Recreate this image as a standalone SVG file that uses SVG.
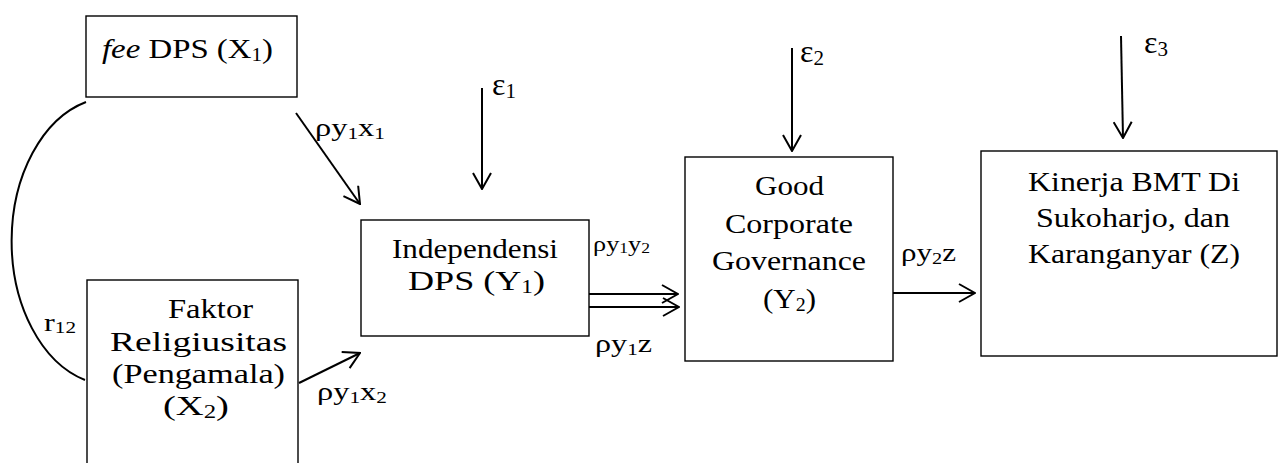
<svg xmlns="http://www.w3.org/2000/svg" width="1278" height="463" viewBox="0 0 1278 463">
<style>
.box{fill:#fff;stroke:#000;stroke-width:1.4}
.c{fill:none;stroke:#000;stroke-width:2}
</style>
<defs>
<marker id="ah" markerUnits="userSpaceOnUse" viewBox="0 0 18 20" refX="17" refY="10" markerWidth="18" markerHeight="20" orient="auto">
<path d="M1,1 L17,10 L1,19" fill="none" stroke="#000" stroke-width="2"/>
</marker>
</defs>
<rect width="1278" height="463" fill="#fff"/>
<g id="connectors">
<path class="c" d="M86,102 A100,144 0 0 0 85,380" stroke-width="1.6"/>
<line class="c" x1="296" y1="113" x2="360" y2="204" marker-end="url(#ah)"/>
<line class="c" x1="299" y1="383" x2="360" y2="353" marker-end="url(#ah)"/>
<line class="c" x1="482" y1="88" x2="482" y2="189" marker-end="url(#ah)"/>
<line class="c" x1="589" y1="294" x2="678" y2="294" marker-end="url(#ah)"/>
<line class="c" x1="589" y1="307" x2="679" y2="307" marker-end="url(#ah)"/>
<line class="c" x1="792" y1="48" x2="792" y2="151" marker-end="url(#ah)"/>
<line class="c" x1="893" y1="293" x2="975" y2="293" marker-end="url(#ah)"/>
<line class="c" x1="1121" y1="36" x2="1123" y2="138" marker-end="url(#ah)"/>
<text font-family="Liberation Serif" font-size="26" x="315" y="136" textLength="70" lengthAdjust="spacingAndGlyphs">ρy<tspan font-size="17" dy="3">1</tspan><tspan dy="-3">x</tspan><tspan font-size="17" dy="3">1</tspan></text>
<text font-family="Liberation Serif" font-size="26" x="317" y="400" textLength="70" lengthAdjust="spacingAndGlyphs">ρy<tspan font-size="17" dy="3">1</tspan><tspan dy="-3">x</tspan><tspan font-size="17" dy="3">2</tspan></text>
<text font-family="Liberation Serif" font-size="21" x="593" y="251" textLength="57" lengthAdjust="spacingAndGlyphs">ρy<tspan font-size="14" dy="2">1</tspan><tspan dy="-2">y</tspan><tspan font-size="14" dy="2">2</tspan></text>
<text font-family="Liberation Serif" font-size="26" x="595" y="352" textLength="57" lengthAdjust="spacingAndGlyphs">ρy<tspan font-size="17" dy="3">1</tspan><tspan dy="-3">z</tspan></text>
<text font-family="Liberation Serif" font-size="26" x="901" y="261" textLength="55" lengthAdjust="spacingAndGlyphs">ρy<tspan font-size="17" dy="3">2</tspan><tspan dy="-3">z</tspan></text>
<text font-family="Liberation Serif" font-size="26" x="44" y="331" textLength="32" lengthAdjust="spacingAndGlyphs">r<tspan font-size="17" dy="2">12</tspan></text>
<text font-family="Liberation Serif" font-size="32" x="492" y="95">ε<tspan font-size="21" dy="3">1</tspan></text>
<text font-family="Liberation Serif" font-size="32" x="800" y="62">ε<tspan font-size="21" dy="3">2</tspan></text>
<text font-family="Liberation Serif" font-size="32" x="1144" y="53">ε<tspan font-size="21" dy="3">3</tspan></text>
</g>
<g id="X1">
<rect class="box" x="86" y="16" width="211" height="81"/>
<text font-family="Liberation Serif" font-size="28" x="102" y="58" textLength="171" lengthAdjust="spacingAndGlyphs"><tspan font-style="italic">fee</tspan> DPS (X<tspan font-size="18" dy="3">1</tspan><tspan dy="-3">)</tspan></text>
</g>
<g id="X2">
<rect class="box" x="87" y="280" width="211" height="200"/>
<text font-family="Liberation Serif" font-size="28" x="168" y="318" textLength="85" lengthAdjust="spacingAndGlyphs">Faktor</text>
<text font-family="Liberation Serif" font-size="28" x="110" y="351" textLength="177" lengthAdjust="spacingAndGlyphs">Religiusitas</text>
<text font-family="Liberation Serif" font-size="28" x="112" y="383" textLength="173" lengthAdjust="spacingAndGlyphs">(Pengamala)</text>
<text font-family="Liberation Serif" font-size="28" x="163" y="415" textLength="66" lengthAdjust="spacingAndGlyphs">(X<tspan font-size="18" dy="3">2</tspan><tspan dy="-3">)</tspan></text>
</g>
<g id="Y1">
<rect class="box" x="361" y="220" width="228" height="116"/>
<text font-family="Liberation Serif" font-size="28" x="392" y="258" textLength="166" lengthAdjust="spacingAndGlyphs">Independensi</text>
<text font-family="Liberation Serif" font-size="28" x="408" y="290" textLength="137" lengthAdjust="spacingAndGlyphs">DPS (Y<tspan font-size="18" dy="3">1</tspan><tspan dy="-3">)</tspan></text>
</g>
<g id="Y2">
<rect class="box" x="685" y="157" width="208" height="204"/>
<text font-family="Liberation Serif" font-size="28" x="755" y="195" textLength="69" lengthAdjust="spacingAndGlyphs">Good</text>
<text font-family="Liberation Serif" font-size="28" x="725" y="233" textLength="128" lengthAdjust="spacingAndGlyphs">Corporate</text>
<text font-family="Liberation Serif" font-size="28" x="712" y="270" textLength="154" lengthAdjust="spacingAndGlyphs">Governance</text>
<text font-family="Liberation Serif" font-size="28" x="763" y="308" textLength="53" lengthAdjust="spacingAndGlyphs">(Y<tspan font-size="18" dy="3">2</tspan><tspan dy="-3">)</tspan></text>
</g>
<g id="Z">
<rect class="box" x="981" y="151" width="296" height="205"/>
<text font-family="Liberation Serif" font-size="28" x="1028" y="191" textLength="212" lengthAdjust="spacingAndGlyphs">Kinerja BMT Di</text>
<text font-family="Liberation Serif" font-size="28" x="1036" y="227" textLength="194" lengthAdjust="spacingAndGlyphs">Sukoharjo, dan</text>
<text font-family="Liberation Serif" font-size="28" x="1028" y="263" textLength="212" lengthAdjust="spacingAndGlyphs">Karanganyar (Z)</text>
</g>
</svg>
